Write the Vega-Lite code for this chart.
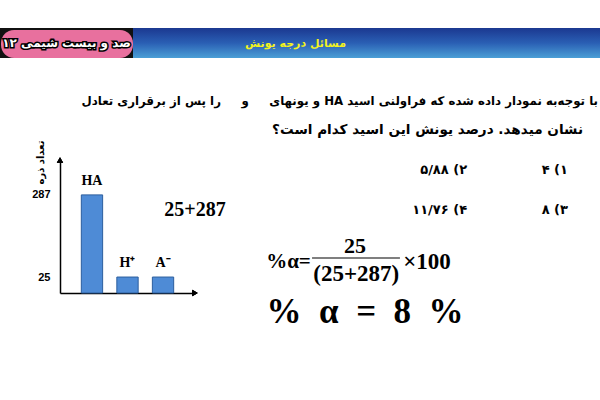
{
  "$schema": "https://vega.github.io/schema/vega-lite/v6.json",
  "padding": {"top": 28, "left": 0, "right": 0, "bottom": 0},
  "background": "white",
  "config": {"view": {"stroke": null}, "font": "DejaVu Sans"},
  "spacing": 0,
  "bounds": "flush",
  "vconcat": [
    {
      "spacing": 0,
      "bounds": "flush",
      "hconcat": [
        {
          "width": 133,
          "height": 30,
          "view": {"fill": "#111111"},
          "data": {"values": [{"label": "\u202Bصد و بیست شیمی ۱۲\u202C"}]},
          "layer": [
            {
              "mark": {"type": "rect", "color": "#e8709e", "cornerRadius": 13},
              "encoding": {"x": {"value": 1}, "x2": {"value": "width"}, "y": {"value": 2}, "y2": {"value": "height"}}
            },
            {
              "mark": {"type": "text", "font": "DejaVu Sans", "fontWeight": "bold", "fontSize": 12, "color": "black", "stroke": "black", "strokeWidth": 3},
              "encoding": {"text": {"field": "label", "type": "nominal"}}
            },
            {
              "mark": {"type": "text", "font": "DejaVu Sans", "fontWeight": "bold", "fontSize": 12, "color": "white"},
              "encoding": {"text": {"field": "label", "type": "nominal"}}
            }
          ]
        },
        {
          "width": 467,
          "height": 30,
          "data": {"values": [{"label": "\u202Bمسائل درجه یونش\u202C"}]},
          "layer": [
            {
              "mark": {
                "type": "rect",
                "color": {
                  "gradient": "linear", "x1": 0, "y1": 0, "x2": 0, "y2": 1,
                  "stops": [
                    {"offset": 0, "color": "#1b3890"},
                    {"offset": 0.5, "color": "#2a5fb4"},
                    {"offset": 1, "color": "#4b9fd6"}
                  ]
                }
              },
              "encoding": {"x": {"value": 0}, "x2": {"value": "width"}, "y": {"value": 0}, "y2": {"value": "height"}}
            },
            {
              "mark": {"type": "text", "font": "DejaVu Sans", "fontWeight": "bold", "fontSize": 11, "color": "#f2f21e", "dx": -71, "dy": 1},
              "encoding": {"text": {"field": "label", "type": "nominal"}}
            }
          ]
        }
      ]
    },
    {
      "width": 600,
      "height": 132,
      "data": {
        "values": [
          {"line": 1, "text": "\u202Bبا توجه‌به نمودار داده شده که فراولنی اسید HA و یونهای \u00A0\u00A0\u00A0 و \u00A0\u00A0\u00A0 را پس از برقراری تعادل\u202C"},
          {"line": 2, "text": "\u202Bنشان میدهد. درصد یونش این اسید کدام است؟\u202C"}
        ]
      },
      "encoding": {
        "x": {"value": "width"},
        "y": {"field": "line", "type": "quantitative", "axis": null, "scale": {"domain": [-1.517, 3.034], "reverse": true, "nice": false, "zero": false}},
        "text": {"field": "text", "type": "nominal"}
      },
      "layer": [
        {
          "transform": [{"filter": "datum.line == 1"}],
          "mark": {"type": "text", "align": "right", "baseline": "middle", "font": "DejaVu Sans", "fontWeight": "bold", "fontSize": 11.8, "color": "black", "dx": -2}
        },
        {
          "transform": [{"filter": "datum.line == 2"}],
          "mark": {"type": "text", "align": "right", "baseline": "middle", "font": "DejaVu Sans", "fontWeight": "bold", "fontSize": 13.6, "color": "black", "dx": -17}
        }
      ]
    },
    {
      "spacing": 0,
      "bounds": "flush",
      "hconcat": [
        {
          "width": 60,
          "height": 133,
          "data": {"values": []},
          "mark": "text"
        },
        {
          "width": 135,
          "height": 133,
          "data": {
            "values": [
              {"species": "HA", "count": 287},
              {"species": "H⁺", "count": 25},
              {"species": "A⁻", "count": 25}
            ]
          },
          "encoding": {
            "x": {
              "field": "species", "type": "nominal", "sort": null,
              "scale": {"paddingInner": 0.4, "paddingOuter": 0.6},
              "axis": {"labels": false, "ticks": false, "title": null, "domainColor": "black", "domainWidth": 1.5}
            },
            "y": {
              "field": "count", "type": "quantitative",
              "scale": {"type": "pow", "exponent": 0.744, "domain": [0, 432], "nice": false},
              "axis": {
                "values": [25, 287], "ticks": false, "grid": false,
                "domainColor": "black", "domainWidth": 1.5,
                "labelFont": "Liberation Sans", "labelFontWeight": "bold", "labelFontSize": 11, "labelColor": "black", "labelPadding": 10,
                "title": "تعداد ذره", "titleFont": "DejaVu Sans", "titleFontWeight": "bold", "titleFontSize": 10, "titleColor": "black",
                "titleX": -20, "titleY": -20, "titleAlign": "right", "titleAngle": -90, "titleBaseline": "middle"
              }
            }
          },
          "layer": [
            {
              "mark": {"type": "rule", "color": "black", "strokeDash": [3, 2], "strokeWidth": 1},
              "encoding": {"x": {"value": 0}, "x2": {"field": "species", "type": "nominal"}}
            },
            {
              "mark": {"type": "bar", "color": "#4e8bd6", "stroke": "#2c5e9e", "strokeWidth": 1}
            },
            {
              "mark": {"type": "text", "baseline": "bottom", "dy": -7, "font": "Liberation Serif", "fontWeight": "bold", "fontSize": 14, "color": "black"},
              "encoding": {"text": {"field": "species", "type": "nominal"}}
            },
            {
              "mark": {"type": "point", "shape": "triangle-up", "filled": true, "color": "black", "size": 40, "opacity": 1},
              "encoding": {"x": {"value": 0}, "y": {"value": 0}}
            },
            {
              "mark": {"type": "point", "shape": "triangle-right", "filled": true, "color": "black", "size": 40, "opacity": 1},
              "encoding": {"x": {"value": "width"}, "y": {"value": "height"}}
            }
          ]
        },
        {
          "width": 405,
          "height": 175,
          "layer": [
            {
              "data": {"values": [{"t": "25+287"}]},
              "mark": {"type": "text", "align": "center", "baseline": "middle", "font": "Liberation Serif", "fontWeight": "bold", "fontSize": 20, "color": "black"},
              "encoding": {
                "x": {"datum": 0, "type": "quantitative", "scale": {"domain": [0, 100]}, "axis": null},
                "y": {"datum": 28.6, "type": "quantitative", "scale": {"domain": [0, 100], "reverse": true}, "axis": null},
                "text": {"field": "t", "type": "nominal"}
              }
            },
            {
              "data": {"values": [{"t": "\u202B۱) ۴\u202C"}]},
              "mark": {"type": "text", "align": "right", "font": "DejaVu Sans", "fontWeight": "bold", "fontSize": 13, "color": "black"},
              "encoding": {
                "x": {"datum": 92.1, "type": "quantitative", "scale": {"domain": [0, 100]}, "axis": null},
                "y": {"datum": 5.7, "type": "quantitative", "scale": {"domain": [0, 100], "reverse": true}, "axis": null},
                "text": {"field": "t", "type": "nominal"}
              }
            },
            {
              "data": {"values": [{"t": "\u202B۲) ۵/۸۸\u202C"}]},
              "mark": {"type": "text", "align": "right", "font": "DejaVu Sans", "fontWeight": "bold", "fontSize": 13, "color": "black"},
              "encoding": {
                "x": {"datum": 67.2, "type": "quantitative", "scale": {"domain": [0, 100]}, "axis": null},
                "y": {"datum": 5.7, "type": "quantitative", "scale": {"domain": [0, 100], "reverse": true}, "axis": null},
                "text": {"field": "t", "type": "nominal"}
              }
            },
            {
              "data": {"values": [{"t": "\u202B۳) ۸\u202C"}]},
              "mark": {"type": "text", "align": "right", "font": "DejaVu Sans", "fontWeight": "bold", "fontSize": 13, "color": "black"},
              "encoding": {
                "x": {"datum": 92.1, "type": "quantitative", "scale": {"domain": [0, 100]}, "axis": null},
                "y": {"datum": 28.6, "type": "quantitative", "scale": {"domain": [0, 100], "reverse": true}, "axis": null},
                "text": {"field": "t", "type": "nominal"}
              }
            },
            {
              "data": {"values": [{"t": "\u202B۴) ۱۱/۷۶\u202C"}]},
              "mark": {"type": "text", "align": "right", "font": "DejaVu Sans", "fontWeight": "bold", "fontSize": 13, "color": "black"},
              "encoding": {
                "x": {"datum": 67.2, "type": "quantitative", "scale": {"domain": [0, 100]}, "axis": null},
                "y": {"datum": 28.6, "type": "quantitative", "scale": {"domain": [0, 100], "reverse": true}, "axis": null},
                "text": {"field": "t", "type": "nominal"}
              }
            },
            {
              "data": {"values": [{"t": "%α="}]},
              "mark": {"type": "text", "align": "right", "baseline": "middle", "font": "Liberation Serif", "fontWeight": "bold", "fontSize": 21, "color": "black"},
              "encoding": {
                "x": {"datum": 28.6, "type": "quantitative", "scale": {"domain": [0, 100]}, "axis": null},
                "y": {"datum": 58.3, "type": "quantitative", "scale": {"domain": [0, 100], "reverse": true}, "axis": null},
                "text": {"field": "t", "type": "nominal"}
              }
            },
            {
              "data": {"values": [{"t": "25"}]},
              "mark": {"type": "text", "align": "center", "baseline": "middle", "font": "Liberation Serif", "fontWeight": "bold", "fontSize": 22, "color": "black"},
              "encoding": {
                "x": {"datum": 39.5, "type": "quantitative", "scale": {"domain": [0, 100]}, "axis": null},
                "y": {"datum": 49.1, "type": "quantitative", "scale": {"domain": [0, 100], "reverse": true}, "axis": null},
                "text": {"field": "t", "type": "nominal"}
              }
            },
            {
              "data": {"values": [{"t": "fraction bar"}]},
              "mark": {"type": "rule", "color": "black", "strokeWidth": 1.2},
              "encoding": {
                "x": {"datum": 28.9, "type": "quantitative", "scale": {"domain": [0, 100]}, "axis": null},
                "x2": {"datum": 50.6},
                "y": {"datum": 56, "type": "quantitative", "scale": {"domain": [0, 100], "reverse": true}, "axis": null}
              }
            },
            {
              "data": {"values": [{"t": "(25+287)"}]},
              "mark": {"type": "text", "align": "center", "baseline": "middle", "font": "Liberation Serif", "fontWeight": "bold", "fontSize": 23, "color": "black"},
              "encoding": {
                "x": {"datum": 39.8, "type": "quantitative", "scale": {"domain": [0, 100]}, "axis": null},
                "y": {"datum": 65.1, "type": "quantitative", "scale": {"domain": [0, 100], "reverse": true}, "axis": null},
                "text": {"field": "t", "type": "nominal"}
              }
            },
            {
              "data": {"values": [{"t": "×100"}]},
              "mark": {"type": "text", "align": "left", "baseline": "middle", "font": "Liberation Serif", "fontWeight": "bold", "fontSize": 23, "color": "black"},
              "encoding": {
                "x": {"datum": 51.4, "type": "quantitative", "scale": {"domain": [0, 100]}, "axis": null},
                "y": {"datum": 58.3, "type": "quantitative", "scale": {"domain": [0, 100], "reverse": true}, "axis": null},
                "text": {"field": "t", "type": "nominal"}
              }
            },
            {
              "data": {"values": [{"t": "% \u00A0α \u00A0= \u00A08 \u00A0%"}]},
              "mark": {"type": "text", "align": "center", "baseline": "middle", "font": "Liberation Serif", "fontWeight": "bold", "fontSize": 35, "color": "black"},
              "encoding": {
                "x": {"datum": 42, "type": "quantitative", "scale": {"domain": [0, 100]}, "axis": null},
                "y": {"datum": 86.9, "type": "quantitative", "scale": {"domain": [0, 100], "reverse": true}, "axis": null},
                "text": {"field": "t", "type": "nominal"}
              }
            }
          ]
        }
      ]
    }
  ]
}
